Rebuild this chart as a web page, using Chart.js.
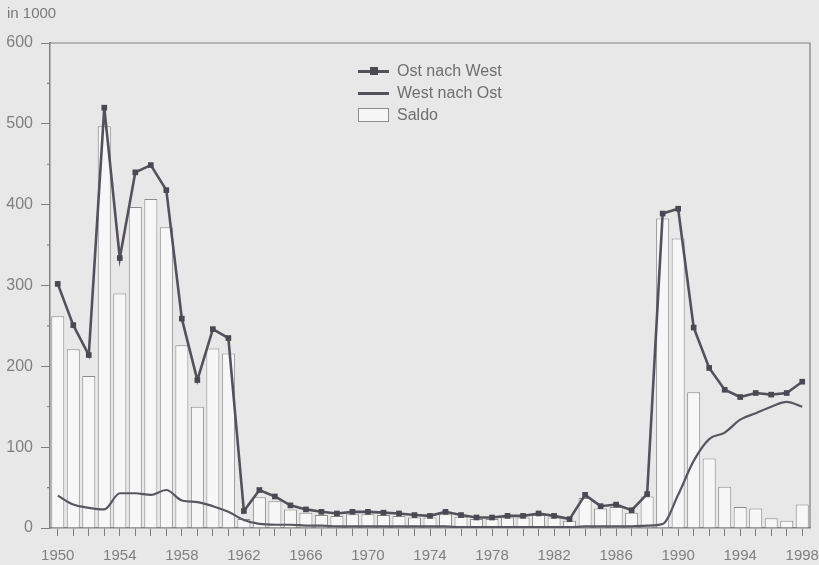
<!DOCTYPE html>
<html>
<head>
<meta charset="utf-8">
<script src="https://cdn.jsdelivr.net/npm/chart.js@4"></script>
<style>
  body { margin: 0; background: #e8e8e8; font-family: "Liberation Sans", Arial, sans-serif; }
  #wrap { position: relative; width: 819px; height: 565px; }
  #unit { position: absolute; left: 7px; top: 4px; font-size: 15px; color: #7a7a7a; }
  #legend { position: absolute; left: 358px; top: 60px; font-size: 16px; color: #6e6e6e; }
  .row { height: 22px; display: flex; align-items: center; }
  .sym { width: 31px; height: 14px; position: relative; margin-right: 8px; }
  .ln { position: absolute; left: 0; right: 0; top: 6px; height: 2.5px; background: #55515b; }
  .sq { position: absolute; left: 12px; top: 3px; width: 8px; height: 8px; background: #4a4850; }
  .box { width: 29px; height: 12px; border: 1px solid #8c8c8c; background: #f7f7f7; margin-right: 8px; }
</style>
</head>
<body>
<div id="wrap">
  <canvas id="chart" width="819" height="565"></canvas>
  <div id="unit">in 1000</div>
  <div id="legend">
    <div class="row"><div class="sym"><div class="ln"></div><div class="sq"></div></div>Ost nach West</div>
    <div class="row"><div class="sym"><div class="ln"></div></div>West nach Ost</div>
    <div class="row"><div class="box"></div>Saldo</div>
  </div>
</div>
<script>
// ---- data (in 1000) ----
const years = [
  1950, 1951, 1952, 1953, 1954, 1955, 1956, 1957, 1958, 1959,
  1960, 1961, 1962, 1963, 1964, 1965, 1966, 1967, 1968, 1969,
  1970, 1971, 1972, 1973, 1974, 1975, 1976, 1977, 1978, 1979,
  1980, 1981, 1982, 1983, 1984, 1985, 1986, 1987, 1988, 1989,
  1990, 1991, 1992, 1993, 1994, 1995, 1996, 1997, 1998
];
const ostNachWest = [
  302, 251, 214, 520, 334, 440, 449, 418, 259, 183,
  246, 235, 21, 47, 39, 28, 23, 20, 18, 20,
  20, 19, 18, 16, 15, 20, 16, 13, 13, 15,
  15, 18, 15, 11, 41, 27, 29, 22, 42, 389,
  395, 248, 198, 171, 162, 167, 165, 167, 181
];
const westNachOst = [
  40, 29, 25, 23, 43, 43, 41, 47, 34, 32,
  27, 20, 10, 5, 4, 4, 3, 3, 2, 2,
  2, 2, 2, 2, 2, 2, 1, 1, 1, 1,
  1, 1, 1, 1, 2, 2, 2, 2, 3, 5,
  41, 83, 110, 118, 134, 142, 150, 156, 150
];
const saldo = [
  262, 221, 188, 497, 290, 397, 407, 372, 226, 150,
  222, 216, 11, 38, 33, 23, 19, 16, 15, 17,
  17, 16, 15, 13, 13, 17, 14, 11, 11, 13,
  13, 16, 13, 9, 37, 24, 26, 19, 39, 383,
  358, 168, 86, 51, 26, 24, 12, 9, 29
];
const yMinor = [50, 150, 250, 350, 450, 550];

const axisColor = "#808080";
const fontFam = "'Liberation Sans', Arial, sans-serif";

// frame + minor y ticks + background
const framePlugin = {
  id: "frame",
  beforeDraw(chart) {
    const c = chart.ctx;
    c.save();
    c.fillStyle = "#e8e8e8";
    c.fillRect(0, 0, chart.width, chart.height);
    c.restore();
  },
  afterDraw(chart) {
    const { ctx, chartArea: a, scales } = chart;
    ctx.save();
    ctx.strokeStyle = axisColor;
    ctx.lineWidth = 1.2;
    ctx.beginPath();
    ctx.moveTo(a.left, a.top);
    ctx.lineTo(a.right, a.top);
    ctx.lineTo(a.right, a.bottom);
    ctx.stroke();
    ctx.beginPath();
    yMinor.forEach((v) => {
      const y = scales.y.getPixelForValue(v);
      ctx.moveTo(a.left - 3, y);
      ctx.lineTo(a.left, y);
    });
    ctx.stroke();
    ctx.restore();
  },
};

new Chart(document.getElementById("chart"), {
  data: {
    labels: years,
    datasets: [
      {
        type: "line",
        label: "Ost nach West",
        data: ostNachWest,
        borderColor: "#55515b",
        backgroundColor: "#4a4850",
        borderWidth: 2.6,
        pointStyle: "rect",
        pointRadius: 4,
        pointBorderWidth: 0,
        tension: 0,
        order: 1,
      },
      {
        type: "line",
        label: "West nach Ost",
        data: westNachOst,
        borderColor: "#5a565f",
        borderWidth: 2.2,
        pointRadius: 0,
        cubicInterpolationMode: "monotone",
        order: 2,
      },
      {
        type: "bar",
        label: "Saldo",
        data: saldo,
        backgroundColor: "#f7f7f7",
        borderColor: "#8c8c8c",
        borderWidth: 1,
        categoryPercentage: 1,
        barPercentage: 0.84,
        order: 3,
      },
    ],
  },
  options: {
    responsive: false,
    animation: false,
    layout: { padding: { top: 43, right: 9, left: 0, bottom: 0 } },
    plugins: { legend: { display: false }, tooltip: { enabled: false } },
    scales: {
      x: {
        type: "category",
        offset: true,
        grid: { drawOnChartArea: false, offset: false, tickLength: 8, tickColor: axisColor, tickWidth: 1 },
        border: { color: axisColor, width: 1.5 },
        ticks: {
          autoSkip: false,
          maxRotation: 0,
          padding: 11,
          color: axisColor,
          font: { family: fontFam, size: 15 },
          callback: (v, i) => (years[i] % 4 === 2 ? String(years[i]) : ""),
        },
        afterFit: (s) => {
          s.height = 37;
          s.paddingLeft = 0;
          s.paddingRight = 0;
        },
      },
      y: {
        min: 0,
        max: 600,
        grid: {
          drawOnChartArea: false,
          tickLength: 9,
          tickWidth: 1,
          tickColor: (ctx) => (ctx.tick && ctx.tick.value % 100 === 0 ? axisColor : "rgba(0,0,0,0)"),
        },
        border: { color: axisColor, width: 1.5 },
        ticks: {
          stepSize: 50,
          padding: 8,
          color: axisColor,
          font: { family: fontFam, size: 16 },
          callback: (v) => (v % 100 === 0 ? v : ""),
        },
        afterFit: (s) => { s.width = 50; },
      },
    },
  },
  plugins: [framePlugin],
});
</script>
</body>
</html>
